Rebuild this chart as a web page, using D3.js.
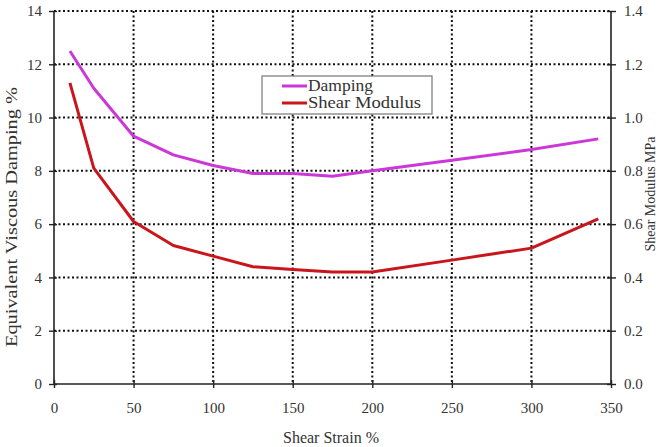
<!DOCTYPE html>
<html><head><meta charset="utf-8">
<script src="https://cdn.jsdelivr.net/npm/d3@7"></script>
<style>body{margin:0;background:#fff}svg{display:block}svg text{fill:#333}</style>
</head><body><svg id="c" width="669" height="447"></svg>
<script>
const strain = [10, 25, 50, 75, 100, 125, 150, 175, 200, 250, 300, 342];
const damping = [12.5, 11.1, 9.3, 8.6, 8.2, 7.9, 7.9, 7.8, 8.0, 8.4, 8.8, 9.2];
const shearModulus = [1.13, 0.81, 0.61, 0.52, 0.48, 0.44, 0.43, 0.42, 0.42, 0.465, 0.51, 0.62];
const xTicks = [0, 50, 100, 150, 200, 250, 300, 350];
const yLeftTicks = [0, 2, 4, 6, 8, 10, 12, 14];
const yRightTicks = [0, 0.2, 0.4, 0.6, 0.8, 1.0, 1.2, 1.4];
const seriesNames = ["Damping", "Shear Modulus"];
const colors = ["#cc38d8", "#c8161c"];

const FONT = '"Liberation Serif","Tinos","Times New Roman","DejaVu Serif",serif';
const svg = d3.select("#c");
const L = 54, R = 611, T = 11, B = 384;
const x = d3.scaleLinear().domain([0, 350]).range([L, R]);
const yL = d3.scaleLinear().domain([0, 14]).range([B, T]);
const yR = d3.scaleLinear().domain([0, 1.4]).range([B, T]);

// grid
const g = svg.append("g");
g.selectAll(".hg").data(yLeftTicks.filter(d => d > 0)).join("line")
  .attr("x1", L).attr("x2", R).attr("y1", d => yL(d)).attr("y2", d => yL(d))
  .attr("stroke", "#111").attr("stroke-width", 2).attr("stroke-dasharray", "2,2.5");
g.selectAll(".vg").data(xTicks.filter(d => d > 0 && d < 350)).join("line")
  .attr("x1", d => x(d)).attr("x2", d => x(d)).attr("y1", T).attr("y2", B)
  .attr("stroke", "#111").attr("stroke-width", 2).attr("stroke-dasharray", "2,2.5");

// axes
const ax = svg.append("g").attr("transform", `translate(0,${B})`)
  .call(d3.axisBottom(x).tickValues(xTicks).tickSize(4).tickPadding(14).tickFormat(d3.format("d")));
ax.selectAll(".tick line").attr("y1", -4);
const ayl = svg.append("g").attr("transform", `translate(${L},0)`)
  .call(d3.axisLeft(yL).tickValues(yLeftTicks).tickSize(5).tickPadding(7).tickFormat(d3.format("d")));
ayl.selectAll(".tick line").attr("x1", 3);
const ayr = svg.append("g").attr("transform", `translate(${R},0)`)
  .call(d3.axisRight(yR).tickValues(yRightTicks).tickSize(5).tickPadding(8).tickFormat(d3.format(".1f")));
ayr.selectAll(".tick line").attr("x1", -4);
[ax, ayl, ayr].forEach(a => {
  a.attr("font-family", FONT).attr("font-size", 15);
  a.select(".domain").attr("stroke", "#222").attr("stroke-width", 1.6);
  a.selectAll(".tick line").attr("stroke", "#222").attr("stroke-width", 1.4);
  a.selectAll(".tick text").attr("fill", "#333");
});
ayl.select(".domain").attr("d", `M0,${T}V${B}`);
ayr.select(".domain").attr("d", `M0,${T}V${B}`);
ax.select(".domain").attr("d", `M${L},0H${R}`);

// lines
const lineL = d3.line().x((d, i) => x(strain[i])).y(d => yL(d));
const lineR = d3.line().x((d, i) => x(strain[i])).y(d => yR(d));
svg.append("path").attr("d", lineL(damping)).attr("fill", "none")
  .attr("stroke", colors[0]).attr("stroke-width", 3).attr("stroke-linejoin", "round");
svg.append("path").attr("d", lineR(shearModulus)).attr("fill", "none")
  .attr("stroke", colors[1]).attr("stroke-width", 3).attr("stroke-linejoin", "round");

// legend
const lg = svg.append("g");
lg.append("rect").attr("x", 262).attr("y", 76).attr("width", 170).attr("height", 38)
  .attr("fill", "#fff").attr("stroke", "#777").attr("stroke-width", 1.2);
seriesNames.forEach((n, i) => {
  const yy = 86 + i * 17;
  lg.append("line").attr("x1", 282).attr("x2", 307).attr("y1", yy).attr("y2", yy)
    .attr("stroke", colors[i]).attr("stroke-width", 3);
  lg.append("text").attr("x", 308).attr("y", yy + 5).attr("font-family", FONT).attr("font-size", 16)
    .attr("textLength", i === 0 ? 65 : 113).attr("lengthAdjust", "spacingAndGlyphs").text(n);
});

// titles
svg.append("text").attr("x", 331).attr("y", 443).attr("text-anchor", "middle")
  .attr("font-family", FONT).attr("font-size", 16).text("Shear Strain %");
svg.append("text").attr("transform", `translate(17,217) rotate(-90)`).attr("text-anchor", "middle")
  .attr("font-family", FONT).attr("font-size", 16).attr("textLength", 260).attr("lengthAdjust", "spacingAndGlyphs")
  .text("Equivalent Viscous Damping %");
svg.append("text").attr("transform", `translate(655,194) rotate(-90)`).attr("text-anchor", "middle")
  .attr("font-family", FONT).attr("font-size", 14).text("Shear Modulus MPa");
</script></body></html>
